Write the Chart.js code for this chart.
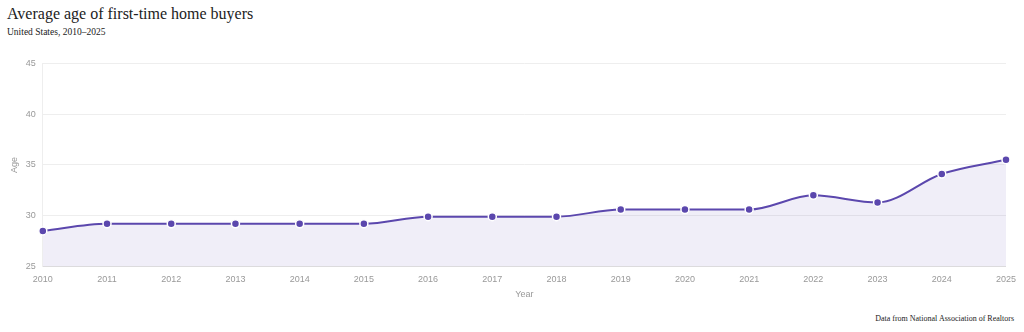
<!DOCTYPE html>
<html>
<head>
<meta charset="utf-8">
<script src="https://cdn.jsdelivr.net/npm/chart.js@4"></script>
<style>
  html, body { margin: 0; padding: 0; background: #fff; }
  body { width: 1024px; height: 332px; position: relative; overflow: hidden; }
  #title { position: absolute; left: 7px; top: 5px; font: 16px "Liberation Serif", serif; color: #222; }
  #subtitle { position: absolute; left: 7px; top: 27px; font: 9.5px "Liberation Serif", serif; color: #222; }
  #source { position: absolute; right: 10px; top: 314px; font: 8px "Liberation Serif", serif; color: #222; }
  #wrap { position: absolute; left: 0; top: 51px; width: 1024px; height: 249px; }
</style>
</head>
<body>
<div id="title">Average age of first-time home buyers</div>
<div id="subtitle">United States, 2010–2025</div>
<div id="wrap"><canvas id="ageChart"></canvas></div>
<div id="source">Data from National Association of Realtors</div>
<script>
// Edad promedio de compradores primerizos
const years = ['2010', '2011', '2012', '2013', '2014', '2015', '2016', '2017', '2018', '2019', '2020', '2021', '2022', '2023', '2024', '2025'];
const ages = [28.5, 29.2, 29.2, 29.2, 29.2, 29.2, 29.9, 29.9, 29.9, 30.6, 30.6, 30.6, 32.0, 31.3, 34.1, 35.5];
const yTicks = [25, 30, 35, 40, 45];

const tickFont = { family: '"Liberation Sans", Arial, sans-serif', size: 9 };

const ctx = document.getElementById('ageChart')?.getContext('2d');
if (ctx) {
  new Chart(ctx, {
    type: 'line',
    data: {
      labels: years,
      datasets: [{
        label: 'Age',
        data: ages,
        borderColor: '#5b47ad',
        backgroundColor: 'rgba(91, 71, 173, 0.09)',
        borderWidth: 2,
        fill: 'origin',
        cubicInterpolationMode: 'monotone',
        pointRadius: 4,
        pointBackgroundColor: '#5b47ad',
        pointBorderColor: '#fff',
        pointBorderWidth: 1.5
      }]
    },
    options: {
      responsive: true,
      maintainAspectRatio: false,
      animation: false,
      layout: { padding: { left: 0, right: 14, top: 6, bottom: 0 } },
      plugins: {
        legend: { display: false },
        tooltip: { enabled: false }
      },
      scales: {
        x: {
          offset: false,
          grid: { display: false, drawTicks: false },
          border: { color: '#ddd' },
          ticks: { color: '#999', font: tickFont, padding: 8, maxRotation: 0 },
          title: { display: true, text: 'Year', color: '#999', font: tickFont, padding: { top: -4, bottom: 0 } }
        },
        y: {
          min: 25,
          max: 45,
          afterBuildTicks: axis => { axis.ticks = yTicks.map(v => ({ value: v })); },
          grid: { color: '#eee', drawTicks: false },
          border: { color: '#eee' },
          ticks: { color: '#999', font: tickFont, padding: 7 },
          title: { display: true, text: 'Age', color: '#999', font: tickFont, padding: { top: 9, bottom: -1 } }
        }
      }
    }
  });
}
</script>
</body>
</html>
